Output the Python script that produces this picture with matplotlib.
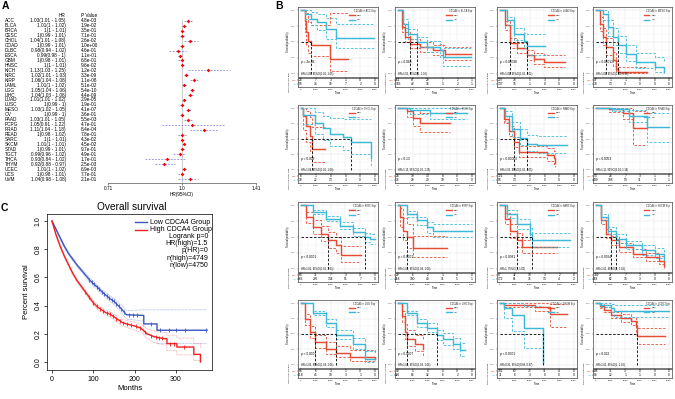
import numpy as np
import matplotlib
matplotlib.use("Agg")
import matplotlib.pyplot as plt
from matplotlib.lines import Line2D

plt.rcParams['font.family'] = ['Liberation Sans', 'DejaVu Sans']

# ---------------- Panel A data (forest plot) ----------------
cancers = ["ACC", "BLCA", "BRCA", "CESC", "CHOL", "COAD", "DLBC", "ESCA", "GBM", "HNSC",
           "KICH", "KIRC", "KIRP", "LAML", "LGG", "LIHC", "LUAD", "LUSC", "MESO", "OV",
           "PAAD", "PCPG", "PRAD", "READ", "SARC", "SKCM", "STAD", "TGCT", "THCA", "THYM",
           "UCEC", "UCS", "UVM"]
hr = [1.03, 1.01, 1, 1, 1.04, 1, 0.98, 0.99, 1, 1,
      1.13, 1.02, 1.06, 1.01, 1.05, 1.04, 1.01, 1, 1.03, 1,
      1.03, 1.05, 1.11, 1, 1, 1.01, 1, 0.99, 0.93, 0.92,
      1.01, 1, 1.04]
hr_low = [1.01, 1, 1, 0.99, 1.01, 0.99, 0.94, 0.98, 0.98, 1,
          1.03, 1.01, 1.04, 1, 1.04, 1.03, 1.01, 0.99, 1.02, 0.99,
          1.01, 0.91, 1.04, 0.98, 1, 1, 0.99, 0.96, 0.84, 0.88,
          1, 0.98, 0.98]
hr_high = [1.05, 1.02, 1.01, 1.01, 1.08, 1.01, 1.02, 1, 1.01, 1.01,
           1.25, 1.03, 1.08, 1.02, 1.06, 1.06, 1.02, 1, 1.05, 1,
           1.05, 1.22, 1.18, 1.02, 1.01, 1.01, 1.01, 1.02, 1.02, 0.97,
           1.02, 1.01, 1.08]
pvals = ["4.8e-03", "1.9e-02", "3.5e-01", "7.1e-01", "2.6e-02", "1.0e+00", "4.6e-01", "1.1e-01",
         "6.8e-01", "9.6e-02", "1.2e-02", "3.3e-09", "1.1e-08", "5.1e-02", "5.4e-10", "4.4e-09",
         "2.9e-05", "1.9e-01", "4.1e-07", "3.6e-01", "5.5e-03", "4.7e-01", "8.4e-04", "7.8e-01",
         "4.3e-02", "4.5e-02", "9.7e-01", "4.9e-01", "1.7e-01", "2.5e-03", "6.9e-03", "7.7e-01",
         "2.1e-01"]
forest_ticks = [2 ** -0.5, 1.0, 2 ** 0.5]
forest_ticklabels = ["0.71", "1.0", "1.41"]

# ---------------- Panel B data (16 KM plots) ----------------
panels = ["ACC", "BLCA", "LUAD", "MESO", "CHOL", "KICH", "PAAD", "PRAD",
          "KIRC", "KIRP", "SARC", "SKCM", "LGG", "LIHC", "THYM", "UCEC"]
p_labels = ["p = 2e-06", "p = 0.049", "p = 0.00038", "p = 0.00013", "p = 0.009", "p = 0.13",
            "p = 0.00063", "p = 0.0053", "p < 0.0001", "p = 0.0001", "p = 0.0081", "p = 0.0064",
            "p < 0.0001", "p = 0.0007", "p < 0.0001", "p = 0.022"]
hr_labels = ["HR=1.03, 95%CI(1.01, 1.05)", "HR=1.01, 95%CI(1, 1.02)", "HR=1.01, 95%CI(1.01, 1.02)",
             "HR=1.03, 95%CI(1.02, 1.05)", "HR=1.04, 95%CI(1.01, 1.08)", "HR=1.13, 95%CI(1.03, 1.25)",
             "HR=1.03, 95%CI(1.01, 1.05)", "HR=1.11, 95%CI(1.04, 1.18)", "HR=1.02, 95%CI(1.01, 1.03)",
             "HR=1.06, 95%CI(1.04, 1.08)", "HR=1, 95%CI(1, 1.01)", "HR=1.01, 95%CI(1, 1.01)",
             "HR=1.05, 95%CI(1.04, 1.06)", "HR=1.04, 95%CI(1.03, 1.06)", "HR=0.92, 95%CI(0.88, 0.97)",
             "HR=1.01, 95%CI(1, 1.02)"]

hi_t = [[0, 250, 360, 470, 700, 1935, 3170],
        [0, 250, 470, 810, 1485, 2385, 3170, 4950],
        [0, 360, 700, 1150, 1820, 2270, 2950, 4400],
        [0, 250, 470, 700, 1150, 1370, 1485, 3510],
        [0, 135, 360, 585, 765, 1600],
        [0, 585, 1035, 1485, 3510],
        [0, 250, 585, 920, 1260, 3150, 3620, 3735],
        [0, 900, 1820, 2500, 3510],
        [0, 360, 810, 1370, 1820, 2385, 2720, 4070],
        [0, 135, 360, 585, 1035, 3285],
        [0, 360, 700, 1150, 1485, 3850],
        [0, 360, 700, 1035, 1600, 2500, 3400, 4300, 4635],
        [0, 250, 585, 920, 1710, 2385, 3285, 5000],
        [0, 250, 470, 585, 1150, 1710],
        [0, 300, 2385, 3400, 4520],
        [0, 300, 585, 1035, 1710, 2385, 2720, 2835, 4750]]
hi_s = [[1, 0.83, 0.65, 0.51, 0.46, 0.23, 0.23],
        [1, 0.73, 0.58, 0.47, 0.42, 0.37, 0.31, 0.31],
        [1, 0.76, 0.49, 0.40, 0.29, 0.24, 0.18, 0.18],
        [1, 0.79, 0.58, 0.42, 0.21, 0.08, 0.03, 0.03],
        [1, 0.87, 0.71, 0.55, 0.34, 0.34],
        [1, 0.95, 0.84, 0.76, 0.76],
        [1, 0.82, 0.63, 0.45, 0.29, 0.24, 0.19, 0.11],
        [1, 0.98, 0.92, 0.68, 0.68],
        [1, 0.81, 0.66, 0.55, 0.45, 0.37, 0.21, 0.21],
        [1, 0.81, 0.60, 0.50, 0.32, 0.32],
        [1, 0.79, 0.60, 0.45, 0.34, 0.34],
        [1, 0.76, 0.55, 0.45, 0.34, 0.24, 0.18, 0.13, 0.05],
        [1, 0.74, 0.53, 0.37, 0.26, 0.19, 0.13, 0.10],
        [1, 0.79, 0.53, 0.42, 0.34, 0.25],
        [1, 0.97, 0.94, 0.82, 0.82],
        [1, 0.95, 0.89, 0.81, 0.76, 0.71, 0.63, 0.47, 0.47]]
hi_up = [[1, 1, 0.95, 0.82, 0.76, 0.96, 0.96],
         [1, 0.80, 0.66, 0.55, 0.50, 0.45, 0.42, 0.42],
         [1, 0.83, 0.57, 0.48, 0.38, 0.33, 0.30, 0.30],
         [1, 0.90, 0.72, 0.57, 0.35, 0.20, 0.10, 0.10],
         [1, 1, 0.95, 0.85, 0.70, 0.70],
         [1, 1, 0.97, 0.92, 0.92],
         [1, 0.88, 0.71, 0.54, 0.38, 0.35, 0.31, 0.25],
         [1, 1, 1, 0.95, 0.95],
         [1, 0.90, 0.77, 0.67, 0.58, 0.50, 0.36, 0.36],
         [1, 0.95, 0.80, 0.70, 0.52, 0.52],
         [1, 0.88, 0.70, 0.56, 0.45, 0.45],
         [1, 0.82, 0.62, 0.52, 0.41, 0.31, 0.25, 0.20, 0.14],
         [1, 0.83, 0.63, 0.48, 0.37, 0.30, 0.24, 0.20],
         [1, 0.88, 0.66, 0.56, 0.48, 0.40],
         [1, 1, 1, 0.98, 0.98],
         [1, 0.98, 0.93, 0.86, 0.82, 0.78, 0.72, 0.60, 0.60]]
hi_lo = [[1, 0.66, 0.45, 0.32, 0.28, 0.05, 0.05],
         [1, 0.66, 0.50, 0.40, 0.35, 0.29, 0.21, 0.21],
         [1, 0.69, 0.41, 0.32, 0.21, 0.16, 0.10, 0.10],
         [1, 0.68, 0.45, 0.29, 0.12, 0.03, 0.01, 0.01],
         [1, 0.65, 0.45, 0.30, 0.12, 0.12],
         [1, 0.86, 0.71, 0.61, 0.61],
         [1, 0.76, 0.55, 0.37, 0.21, 0.15, 0.10, 0.05],
         [1, 0.94, 0.82, 0.40, 0.40],
         [1, 0.72, 0.55, 0.43, 0.33, 0.25, 0.10, 0.10],
         [1, 0.66, 0.45, 0.33, 0.18, 0.18],
         [1, 0.70, 0.49, 0.35, 0.25, 0.25],
         [1, 0.70, 0.48, 0.38, 0.27, 0.18, 0.12, 0.07, 0.02],
         [1, 0.65, 0.44, 0.28, 0.18, 0.12, 0.07, 0.05],
         [1, 0.70, 0.42, 0.31, 0.23, 0.14],
         [1, 0.93, 0.88, 0.62, 0.62],
         [1, 0.92, 0.85, 0.76, 0.70, 0.64, 0.54, 0.34, 0.34]]

lo_t = [[0, 250, 650, 1100, 1700, 2360, 4950],
        [0, 360, 700, 1260, 1935, 2835, 3060, 4950],
        [0, 470, 920, 1600, 1820, 3060],
        [0, 470, 810, 1150, 1485, 2050, 2720, 4070, 4635],
        [0, 135, 920, 1485, 1935, 2835, 3400, 4750],
        [0, 810, 2160, 4635],
        [0, 360, 810, 1370, 1820, 2500, 4520],
        [0, 1100, 2270, 3510, 5000],
        [0, 810, 1710, 2610, 3510, 4300, 4635, 5000],
        [0, 585, 1260, 1935, 2385, 4970],
        [0, 470, 1150, 2050, 2160, 4750],
        [0, 360, 810, 1370, 2050, 3170, 4070, 4635],
        [0, 810, 1710, 2385, 3510, 4300, 5000],
        [0, 585, 1260, 1935, 2610, 3060, 3735, 4185, 4520],
        [0, 250, 810, 1600, 2880],
        [0, 300, 1035, 1260, 5000]]
lo_s = [[1, 0.94, 0.86, 0.81, 0.70, 0.57, 0.57],
        [1, 0.79, 0.63, 0.50, 0.42, 0.37, 0.26, 0.26],
        [1, 0.84, 0.63, 0.52, 0.43, 0.43],
        [1, 0.94, 0.73, 0.58, 0.45, 0.31, 0.18, 0.10, 0.03],
        [1, 0.89, 0.76, 0.68, 0.58, 0.53, 0.45, 0.20],
        [1, 0.97, 0.92, 0.92],
        [1, 0.87, 0.66, 0.52, 0.42, 0.40, 0.40],
        [1, 0.98, 0.87, 0.69, 0.69],
        [1, 0.89, 0.79, 0.68, 0.58, 0.50, 0.47, 0.47],
        [1, 0.86, 0.76, 0.66, 0.60, 0.60],
        [1, 0.86, 0.71, 0.55, 0.45, 0.45],
        [1, 0.81, 0.60, 0.47, 0.37, 0.29, 0.24, 0.16],
        [1, 0.84, 0.68, 0.49, 0.34, 0.10, 0.10],
        [1, 0.84, 0.68, 0.60, 0.49, 0.42, 0.34, 0.24, 0.24],
        [1, 0.92, 0.81, 0.60, 0.03],
        [1, 0.97, 0.92, 0.88, 0.88]]
lo_up = [[1, 1, 0.97, 0.94, 0.88, 0.79, 0.79],
         [1, 0.86, 0.71, 0.58, 0.51, 0.47, 0.40, 0.40],
         [1, 0.90, 0.72, 0.64, 0.62, 0.62],
         [1, 1, 0.85, 0.72, 0.60, 0.46, 0.32, 0.26, 0.20],
         [1, 1, 0.93, 0.88, 0.84, 0.82, 0.82, 0.82],
         [1, 1, 1, 1],
         [1, 0.95, 0.78, 0.66, 0.57, 0.55, 0.55],
         [1, 1, 0.97, 0.92, 0.92],
         [1, 0.92, 0.83, 0.73, 0.64, 0.57, 0.55, 0.55],
         [1, 0.91, 0.82, 0.74, 0.70, 0.70],
         [1, 0.92, 0.79, 0.64, 0.56, 0.56],
         [1, 0.86, 0.66, 0.54, 0.44, 0.37, 0.32, 0.25],
         [1, 0.88, 0.74, 0.57, 0.43, 0.22, 0.22],
         [1, 0.88, 0.74, 0.67, 0.57, 0.51, 0.44, 0.35, 0.35],
         [1, 1, 1, 0.95, 0.95],
         [1, 1, 0.98, 0.97, 0.97]]
lo_lo = [[1, 0.86, 0.76, 0.69, 0.55, 0.40, 0.40],
         [1, 0.72, 0.55, 0.42, 0.34, 0.27, 0.12, 0.12],
         [1, 0.77, 0.53, 0.40, 0.30, 0.30],
         [1, 0.85, 0.60, 0.45, 0.32, 0.20, 0.09, 0.03, 0.01],
         [1, 0.75, 0.58, 0.48, 0.38, 0.32, 0.25, 0.05],
         [1, 0.91, 0.82, 0.82],
         [1, 0.78, 0.54, 0.40, 0.30, 0.27, 0.27],
         [1, 0.96, 0.78, 0.45, 0.45],
         [1, 0.86, 0.75, 0.63, 0.52, 0.42, 0.39, 0.39],
         [1, 0.81, 0.69, 0.57, 0.50, 0.50],
         [1, 0.80, 0.62, 0.46, 0.35, 0.35],
         [1, 0.76, 0.54, 0.41, 0.31, 0.22, 0.17, 0.10],
         [1, 0.80, 0.62, 0.42, 0.26, 0.04, 0.04],
         [1, 0.80, 0.62, 0.53, 0.41, 0.33, 0.25, 0.15, 0.15],
         [1, 0.76, 0.55, 0.28, 0.01],
         [1, 0.93, 0.85, 0.77, 0.77]]

risk_times = [0, 1000, 2000, 3000, 4000, 5000]
risk_hi = [[24, 7, 3, 1, 0, 0], [241, 67, 29, 7, 2, 1], [207, 33, 5, 3, 0, 0], [47, 1, 1, 0, 0, 0],
           [6, 1, 0, 0, 0, 0], [28, 19, 13, 8, 0, 0], [121, 8, 0, 0, 0, 0], [53, 24, 7, 3, 1, 0],
           [64, 31, 7, 3, 0, 0], [29, 6, 2, 1, 0, 0], [87, 32, 10, 3, 2, 0], [189, 27, 7, 3, 0, 0],
           [84, 6, 3, 1, 0, 0], [40, 5, 0, 0, 0, 0], [101, 60, 35, 11, 4, 0], [408, 71, 3, 0, 0, 0]]
risk_lo = [[55, 34, 16, 7, 2, 0], [166, 42, 16, 5, 2, 1], [137, 15, 1, 0, 0, 0], [38, 13, 3, 0, 0, 0],
           [30, 22, 13, 4, 0, 0], [36, 29, 20, 10, 3, 0], [56, 13, 2, 0, 0, 0], [449, 198, 53, 11, 3, 1],
           [466, 276, 134, 51, 7, 0], [258, 100, 40, 11, 5, 1], [172, 61, 36, 13, 4, 2], [268, 62, 15, 3, 0, 0],
           [418, 45, 10, 3, 1, 0], [326, 86, 32, 6, 2, 0], [11, 6, 3, 0, 0, 0], [84, 22, 1, 1, 0, 0]]

# ---------------- Panel C data (overall survival) ----------------
c_low_t = [0, 10, 20, 30, 40, 50, 60, 70, 80, 90, 100, 110, 120, 130, 140, 150, 160, 170, 180,
           222, 222, 254, 254, 375]
c_low_s = [1.0, 0.94, 0.88, 0.82, 0.77, 0.73, 0.69, 0.655, 0.62, 0.585, 0.555, 0.53, 0.50, 0.475,
           0.45, 0.43, 0.40, 0.37, 0.335, 0.33, 0.27, 0.27, 0.225, 0.225]
c_low_up = [1.0, 0.945, 0.888, 0.83, 0.78, 0.74, 0.70, 0.667, 0.633, 0.60, 0.57, 0.546, 0.517, 0.493,
            0.47, 0.452, 0.424, 0.396, 0.365, 0.37, 0.37, 0.37, 0.37, 0.37]
c_low_lo = [1.0, 0.935, 0.872, 0.81, 0.76, 0.72, 0.68, 0.643, 0.607, 0.57, 0.54, 0.514, 0.483, 0.457,
            0.43, 0.408, 0.376, 0.344, 0.305, 0.29, 0.20, 0.18, 0.13, 0.13]
c_high_t = [0, 10, 20, 30, 40, 50, 60, 70, 80, 90, 100, 110, 120, 130, 140, 150, 160, 170, 180,
            200, 215, 230, 246, 270, 278, 278, 302, 302, 343, 343, 359, 359]
c_high_s = [1, 0.90, 0.82, 0.75, 0.69, 0.63, 0.58, 0.54, 0.50, 0.46, 0.42, 0.39, 0.37, 0.35, 0.34,
            0.32, 0.30, 0.28, 0.27, 0.255, 0.24, 0.20, 0.18, 0.165, 0.165, 0.13, 0.13, 0.106, 0.106,
            0.054, 0.054, 0.0]
c_high_up = [1, 0.905, 0.827, 0.758, 0.70, 0.64, 0.59, 0.551, 0.512, 0.473, 0.434, 0.405, 0.386, 0.367,
             0.358, 0.34, 0.322, 0.303, 0.295, 0.283, 0.27, 0.235, 0.22, 0.21, 0.21, 0.19, 0.19, 0.17,
             0.17, 0.13, 0.13, 0.10]
c_high_lo = [1, 0.895, 0.813, 0.742, 0.68, 0.62, 0.57, 0.529, 0.488, 0.447, 0.406, 0.375, 0.354, 0.333,
             0.322, 0.30, 0.278, 0.257, 0.245, 0.227, 0.21, 0.165, 0.14, 0.12, 0.12, 0.08, 0.08, 0.05,
             0.05, 0.01, 0.01, 0.0]
c_low_cens = [90, 96, 102, 108, 114, 120, 126, 132, 138, 144, 150, 156, 162, 168, 174, 186, 196, 206,
              240, 262, 282, 300, 322, 372]
c_high_cens = [80, 90, 100, 108, 116, 124, 132, 140, 148, 156, 164, 172, 182, 192, 202, 212, 225, 240,
               252, 260, 266, 285, 295, 320]
c_stats = ["Logrank p=0", "HR(high)=1.5", "p(HR)=0", "n(high)=4749", "n(low)=4750"]

# ---------------- Figure ----------------
W, H = 675, 399
fig = plt.figure(figsize=(W / 100, H / 100), dpi=100)
fig.patch.set_facecolor("white")


def box(l, t, r, b):
    return [l / W, 1 - b / H, (r - l) / W, (b - t) / H]


def ftxt(x, y, s, **kw):
    fig.text(x / W, 1 - y / H, s, **kw)


RED = "#E64B35"
BLUE = "#3DB8D8"

# ---- Panel A ----
ftxt(2, 1, "A", fontsize=7.5, fontweight="bold", va="top")
rows = np.arange(len(cancers))
YLIM = (32.8, -1.0)
ta = fig.add_axes(box(0, 16, 108, 183))
ta.set_xlim(0, 108)
ta.set_ylim(*YLIM)
ta.axis("off")
fs_a = 3.4
ta.text(62, -1, "HR", fontsize=fs_a, ha="center", va="center")
ta.text(81, -1, "P Value", fontsize=fs_a, ha="left", va="center")
for i, name in enumerate(cancers):
    ta.text(5, rows[i], name, fontsize=fs_a, ha="left", va="center")
    ta.text(66, rows[i], f"{hr[i]:g}({hr_low[i]:g} - {hr_high[i]:g})", fontsize=fs_a,
            ha="right", va="center")
    ta.text(81, rows[i], pvals[i], fontsize=fs_a, ha="left", va="center")

fa = fig.add_axes(box(108, 16, 256, 183))
fa.set_xscale("log", base=2)
fa.set_xlim(forest_ticks[0], forest_ticks[-1])
fa.set_ylim(*YLIM)
fa.plot([1, 1], [-0.2, YLIM[0]], color="#b5b5b5", lw=0.5, zorder=0)
fa.hlines(rows, hr_low, hr_high, colors="#8c8ce0", linestyles=(0, (2.2, 1.6)), lw=0.6, zorder=1)
fa.scatter(hr, rows, marker="D", s=3.5, color="red", zorder=3, linewidths=0)
for s in ["top", "right", "left"]:
    fa.spines[s].set_visible(False)
fa.spines["bottom"].set_linewidth(0.5)
fa.spines["bottom"].set_color("#555555")
fa.set_yticks([])
fa.minorticks_off()
fa.set_xticks(forest_ticks)
fa.set_xticklabels(forest_ticklabels, fontsize=fs_a)
fa.xaxis.set_minor_locator(matplotlib.ticker.NullLocator())
fa.tick_params(axis="x", length=1.5, width=0.5, pad=1, colors="#555555", labelcolor="black")
fa.set_xlabel("HR(95%CI)", fontsize=fs_a, labelpad=0.5)
fa.patch.set_alpha(0)

# ---- Panel C ----
ftxt(1, 203, "C", fontsize=7.5, fontweight="bold", va="top")
ca = fig.add_axes(box(47, 214, 212, 370))
ca.plot(c_low_t, c_low_up, color="#8a9ae0", lw=0.5, ls=(0, (1, 1)))
ca.plot(c_low_t, c_low_lo, color="#8a9ae0", lw=0.5, ls=(0, (1, 1)))
ca.plot(c_high_t, c_high_up, color="#f08a8a", lw=0.5, ls=(0, (1, 1)))
ca.plot(c_high_t, c_high_lo, color="#f08a8a", lw=0.5, ls=(0, (1, 1)))
ca.plot(c_low_t, c_low_s, color="#3B55C0", lw=1.0)
ca.plot(c_high_t, c_high_s, color="#F02020", lw=1.0)
ca.plot(c_low_cens, np.interp(c_low_cens, c_low_t, c_low_s), ls="none", marker="|",
        ms=3, mew=0.6, color="#3B55C0")
ca.plot(c_high_cens, np.interp(c_high_cens, c_high_t, c_high_s), ls="none", marker="|",
        ms=3, mew=0.6, color="#F02020")
ca.set_xlim(-12.1, 387)
ca.set_ylim(-0.057, 1.05)
ca.set_xticks([0, 100, 200, 300])
ca.set_yticks([0, 0.2, 0.4, 0.6, 0.8, 1.0])
ca.set_yticklabels(["0.0", "0.2", "0.4", "0.6", "0.8", "1.0"], rotation=90, va="center")
ca.tick_params(labelsize=5, length=2.5, width=0.5, pad=1.5)
for s in ca.spines.values():
    s.set_linewidth(0.5)
ca.set_xlabel("Months", fontsize=5.5, labelpad=2)
ca.set_ylabel("Percent survival", fontsize=5.5, labelpad=3)
ftxt(132, 207, "Overall survival", fontsize=7.3, ha="center", va="center")
fig.add_artist(Line2D([135 / W, 147 / W], [1 - 222.3 / H] * 2, color="#3B55C0", lw=1.0))
fig.add_artist(Line2D([135 / W, 147 / W], [1 - 229.5 / H] * 2, color="#F02020", lw=1.0))
ftxt(150, 222.3, "Low CDCA4 Group", fontsize=5, va="center")
ftxt(150, 229.5, "High CDCA4 Group", fontsize=5, va="center")
for k, s in enumerate(c_stats):
    ftxt(208, 236.7 + 7.1 * k, s, fontsize=5, va="center", ha="right")

# ---- Panel B ----
ftxt(275, 1, "B", fontsize=7.5, fontweight="bold", va="top")
col_l = [298, 395, 497, 593]
col_r = [378, 475, 577, 672]
row_t = [7, 105, 202, 300]
row_b = [77, 173, 272, 368]


def median_time(t, s):
    for ti, si in zip(t, s):
        if si <= 0.5:
            return ti
    return None


for k, name in enumerate(panels):
    r, c = divmod(k, 4)
    ax = fig.add_axes(box(col_l[c], row_t[r], col_r[c], row_b[r]))
    ax.set_xlim(-200, 5200)
    ax.set_ylim(-0.05, 1.05)
    ax.set_xticks(risk_times)
    ax.set_xticks([500, 1500, 2500, 3500, 4500], minor=True)
    ax.set_yticks([0, 0.25, 0.5, 0.75, 1.0])
    ax.set_yticks([0.125, 0.375, 0.625, 0.875], minor=True)
    ax.set_yticklabels(["0.00", "0.25", "0.50", "0.75", "1.00"])
    ax.set_xticklabels([])
    ax.grid(True, which="major", color="#e6e6e6", lw=0.35)
    ax.grid(True, which="minor", color="#f2f2f2", lw=0.25)
    ax.set_axisbelow(True)
    ax.tick_params(which="both", length=0.8, width=0.3, pad=0.6, labelsize=1.7, colors="#555555")
    ax.tick_params(which="minor", length=0)
    for s in ax.spines.values():
        s.set_linewidth(0.55)
        s.set_color("#555555")
    ax.set_ylabel("Survival probability", fontsize=1.8, labelpad=1)

    for tt, ss, uu, ll, col in [(hi_t[k], hi_s[k], hi_up[k], hi_lo[k], RED),
                                (lo_t[k], lo_s[k], lo_up[k], lo_lo[k], BLUE)]:
        ax.step(tt, uu, where="post", color=col, lw=0.6, ls=(0, (3, 2)))
        ax.step(tt, ll, where="post", color=col, lw=0.6, ls=(0, (3, 2)))
        ax.step(tt, ss, where="post", color=col, lw=1.05)

    meds = [m for m in (median_time(hi_t[k], hi_s[k]), median_time(lo_t[k], lo_s[k])) if m is not None]
    if meds:
        ax.plot([0, max(meds)], [0.5, 0.5], color="black", lw=0.6, ls=(0, (3, 2)))
        for m in meds:
            ax.plot([m, m], [0, 0.5], color="black", lw=0.6, ls=(0, (3, 2)))

    ax.text(0.97, 0.975, f"CDCA4 in {name} Exp", transform=ax.transAxes, fontsize=1.8,
            ha="right", va="top", color="#333333")
    ax.plot([0.64, 0.71], [0.885, 0.885], transform=ax.transAxes, color=RED, lw=1.0)
    ax.plot([0.64, 0.71], [0.82, 0.82], transform=ax.transAxes, color=BLUE, lw=1.0)
    ax.text(0.74, 0.885, "high", transform=ax.transAxes, fontsize=1.7, va="center")
    ax.text(0.74, 0.82, "low", transform=ax.transAxes, fontsize=1.7, va="center")
    ax.text(0.04, 0.21, p_labels[k], transform=ax.transAxes, fontsize=2.3, va="center")
    ax.text(0.04, 0.045, hr_labels[k], transform=ax.transAxes, fontsize=1.8, va="center")

    tb = fig.add_axes(box(col_l[c], row_b[r] + 0.8, col_r[c], row_b[r] + 10))
    tb.set_xlim(-200, 5200)
    tb.set_ylim(-0.6, 1.6)
    for j, tm in enumerate(risk_times):
        tb.text(tm, 1, str(risk_hi[k][j]), fontsize=2.3, ha="center", va="center")
        tb.text(tm, 0, str(risk_lo[k][j]), fontsize=2.3, ha="center", va="center")
    tb.set_xticks(risk_times)
    tb.set_xticklabels([str(v) for v in risk_times])
    tb.set_yticks([1, 0])
    tb.set_yticklabels(["high", "low"])
    for lab, col in zip(tb.get_yticklabels(), [RED, BLUE]):
        lab.set_color(col)
    tb.tick_params(length=0.8, width=0.3, pad=0.6, labelsize=1.7)
    for s in tb.spines.values():
        s.set_linewidth(0.55)
        s.set_color("#555555")
    tb.set_xlabel("Time", fontsize=2.0, labelpad=0.6)
    tb.set_ylabel(f"CDCA4 in {name} Exp", fontsize=1.6, labelpad=1)

fig.savefig("out.png", dpi=100, facecolor="white")
